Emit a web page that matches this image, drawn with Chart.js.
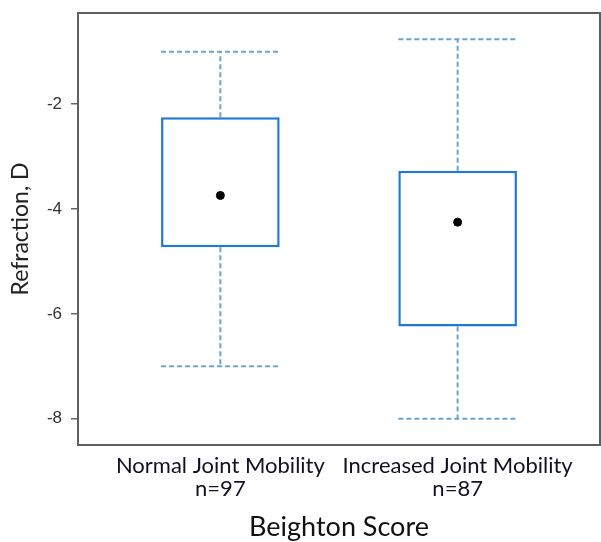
<!DOCTYPE html>
<html>
<head>
<meta charset="utf-8">
<script src="https://cdn.jsdelivr.net/npm/chart.js@4.4.1/dist/chart.umd.min.js"></script>
<style>
  html, body { margin: 0; padding: 0; background: #fff; }
  #wrap { width: 601px; height: 542px; }
</style>
</head>
<body>
<div id="wrap"><canvas id="grafico" width="601" height="542"></canvas></div>
<script>
'use strict';

// ── Dati ──────────────────────────────────────────────
const categories   = ['Normal Joint Mobility', 'Increased Joint Mobility'];
const sampleSizes  = ['n=97', 'n=87'];
const whiskerLow   = [-7.0, -8.0];
const q1           = [-4.73, -6.24];
const q3           = [-2.25, -3.27];
const whiskerHigh  = [-1.0, -0.76];
const means        = [-3.74, -4.25];
const yTickValues  = [-8, -6, -4, -2];

const BOX_HALF = 0.25;            // mezza larghezza box (unità asse x)
const BOX_COLOR = '#1f7ad6';
const WHISK_COLOR = '#6aa3d2';

// posizioni x: 1, 2, ...
const xPos = categories.map((c, i) => i + 1);

// box come barre flottanti
const boxData = xPos.map((x, i) => ({ x: x, y: [q1[i], q3[i]] }));

// baffi: tratto verticale + cappello, separati da null
const whiskerData = [];
xPos.forEach((x, i) => {
  whiskerData.push({ x: x, y: q3[i] }, { x: x, y: whiskerHigh[i] }, { x: x, y: null });
  whiskerData.push({ x: x - BOX_HALF, y: whiskerHigh[i] }, { x: x + BOX_HALF, y: whiskerHigh[i] }, { x: x, y: null });
  whiskerData.push({ x: x, y: q1[i] }, { x: x, y: whiskerLow[i] }, { x: x, y: null });
  whiskerData.push({ x: x - BOX_HALF, y: whiskerLow[i] }, { x: x + BOX_HALF, y: whiskerLow[i] }, { x: x, y: null });
});

const meanData = xPos.map((x, i) => ({ x: x, y: means[i] }));

// cornice attorno all'area del grafico
const framePlugin = {
  id: 'frame',
  afterDatasetsDraw(chart) {
    const { ctx, chartArea: a } = chart;
    ctx.save();
    ctx.strokeStyle = '#5f5f5f';
    ctx.lineWidth = 2;
    ctx.strokeRect(a.left, a.top, a.right - a.left, a.bottom - a.top);
    ctx.restore();
  }
};

new Chart(document.getElementById('grafico').getContext('2d'), {
  type: 'bar',
  data: {
    datasets: [
      {
        type: 'line',
        data: whiskerData,
        borderColor: WHISK_COLOR,
        borderWidth: 2,
        borderDash: [5, 3],
        pointRadius: 0,
        spanGaps: false,
        order: 3
      },
      {
        type: 'bar',
        data: boxData,
        backgroundColor: '#ffffff',
        borderColor: BOX_COLOR,
        borderWidth: 2.5,
        borderSkipped: false,
        categoryPercentage: 1,
        barPercentage: 0.5,
        order: 2
      },
      {
        type: 'scatter',
        data: meanData,
        backgroundColor: '#000',
        borderColor: '#000',
        pointRadius: 4,
        order: 1
      }
    ]
  },
  options: {
    responsive: false,
    animation: false,
    layout: { autoPadding: false, padding: { top: 13, right: 1, left: 0, bottom: 0 } },
    plugins: {
      legend: { display: false },
      tooltip: { enabled: false }
    },
    scales: {
      x: {
        type: 'linear',
        offset: false,
        min: 0.4,
        max: 2.6,
        afterBuildTicks: s => { s.ticks = xPos.map(v => ({ value: v })); },
        afterFit: s => { s.height = 97; s.paddingLeft = 0; s.paddingRight = 0; },
        border: { display: false },
        grid: { display: false, drawTicks: false, offset: false },
        ticks: {
          padding: 9,
          color: '#111122',
          font: { family: 'Lato', size: 22, lineHeight: 23.5 / 22 },
          maxRotation: 0,
          autoSkip: false,
          callback: (v) => {
            const i = Math.round(v) - 1;
            return [categories[i], sampleSizes[i]];
          }
        },
        title: {
          display: true,
          text: 'Beighton Score',
          color: '#111',
          font: { family: 'Lato', size: 27, lineHeight: 1.1 },
          padding: { top: 0, bottom: 0 }
        }
      },
      y: {
        min: -8.5,
        max: -0.26,
        afterBuildTicks: s => { s.ticks = yTickValues.map(v => ({ value: v })); },
        afterFit: s => { s.width = 78; s.paddingTop = 0; s.paddingBottom = 0; },
        border: { display: false },
        grid: { drawOnChartArea: false, drawTicks: true, tickLength: 7, tickColor: '#666', lineWidth: 1.5 },
        ticks: {
          padding: 9,
          color: '#333',
          font: { family: 'Liberation Sans', size: 17 }
        },
        title: {
          display: true,
          text: 'Refraction, D',
          color: '#222',
          font: { family: 'Lato', size: 23, lineHeight: 1.2 },
          padding: { top: 7, bottom: 0 }
        }
      }
    }
  },
  plugins: [framePlugin]
});
</script>
</body>
</html>
